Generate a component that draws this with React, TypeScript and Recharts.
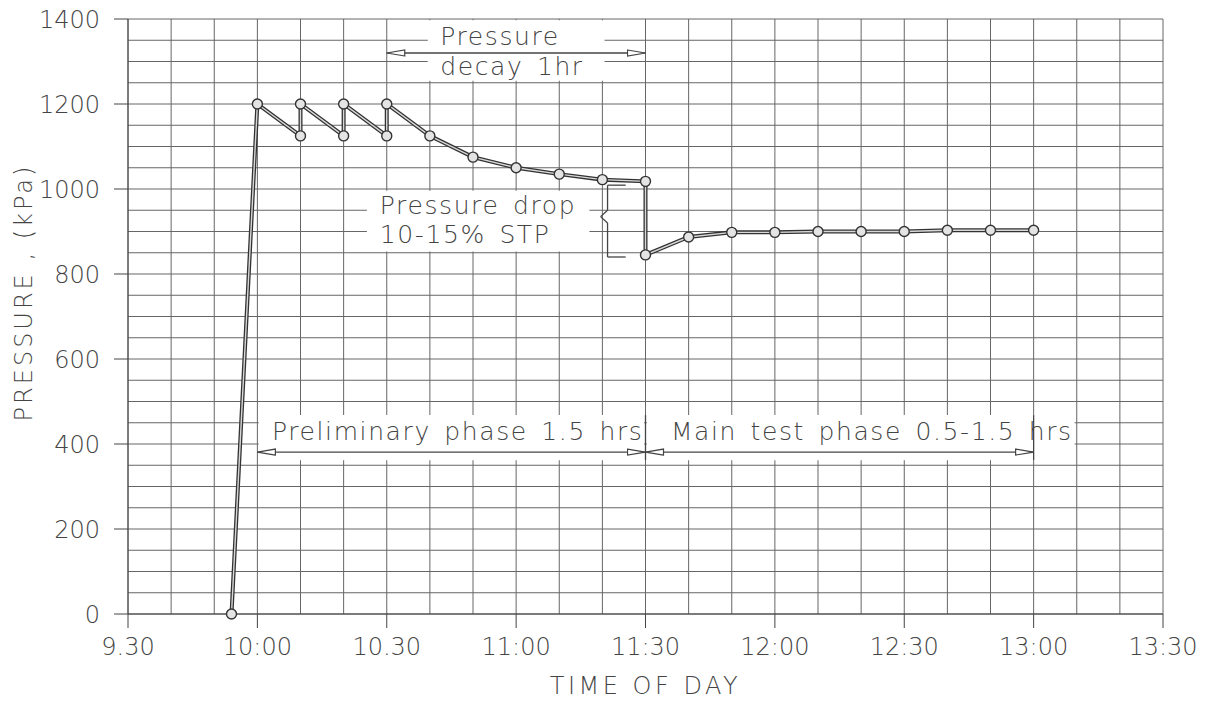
import React from 'react'
import {
  ComposedChart,
  Line,
  XAxis,
  YAxis,
  CartesianGrid,
  ReferenceArea,
  ReferenceLine,
} from 'recharts'

// minutes after 9:30
const minutes = [24, 30, 40, 40, 50, 50, 60, 60, 70, 80, 90, 100, 110, 120, 120, 130, 140, 150, 160, 170, 180, 190, 200, 210]
const pressure = [0, 1200, 1125, 1200, 1125, 1200, 1125, 1200, 1125, 1075, 1050, 1035, 1022, 1018, 845, 887, 898, 898, 900, 900, 900, 903, 903, 903]

const timeTicks = [0, 30, 60, 90, 120, 150, 180, 210, 240]
const timeLabels = ['9.30', '10:00', '10.30', '11:00', '11:30', '12:00', '12:30', '13:00', '13:30']
const pressureTicks = [0, 200, 400, 600, 800, 1000, 1200, 1400]
const gridMinutes = [0, 10, 20, 30, 40, 50, 60, 70, 80, 90, 100, 110, 120, 130, 140, 150, 160, 170, 180, 190, 200, 210, 220, 230, 240]
const gridPressures = [0, 50, 100, 150, 200, 250, 300, 350, 400, 450, 500, 550, 600, 650, 700, 750, 800, 850, 900, 950, 1000, 1050, 1100, 1150, 1200, 1250, 1300, 1350, 1400]

const data = minutes.map((t, i) => ({ t, p: pressure[i] }))

const FONT = "'DejaVu Sans', sans-serif"
const INK = '#444'

type BoxLine = { text: string; x: number; y: number }

// text inside a white ReferenceArea, placed in data units relative to the box
function boxText(lines: BoxLine[], x0: number, x1: number, y0: number, y1: number) {
  return (props: any) => {
    const vb = props.viewBox
    return (
      <g>
        {lines.map((l) => (
          <text
            key={l.text}
            x={vb.x + ((l.x - x0) / (x1 - x0)) * vb.width}
            y={vb.y + ((y1 - l.y) / (y1 - y0)) * vb.height}
            dominantBaseline="central"
            fontFamily={FONT}
            fontWeight={200}
            fontSize={25}
            letterSpacing={1.6}
            wordSpacing={4}
            fill={INK}
          >
            {l.text}
          </text>
        ))}
      </g>
    )
  }
}

const arrow = (p: any) => (
  <line x1={p.x1} y1={p.y1} x2={p.x2} y2={p.y2} stroke={INK} strokeWidth={1.3} markerStart="url(#arr)" markerEnd="url(#arr)" />
)

const Dot = (p: any) => {
  if (p.cx == null || p.cy == null) return null
  return <circle key={p.index} cx={p.cx} cy={p.cy} r={5} fill="#e4e4e4" stroke="#333" strokeWidth={1.4} />
}

export default function App() {
  return (
    <div style={{ position: 'absolute', left: 0, top: 0, width: 1209, height: 702, background: '#fff' }}>
      <svg width={0} height={0} style={{ position: 'absolute' }}>
        <defs>
          <marker id="arr" markerUnits="userSpaceOnUse" markerWidth={20} markerHeight={8} refX={19} refY={4} orient="auto-start-reverse">
            <path d="M1,1 L19,4 L1,7 Z" fill="#fff" stroke={INK} strokeWidth={1.2} />
          </marker>
        </defs>
      </svg>
      <ComposedChart width={1209} height={702} data={data} margin={{ top: 19, right: 46, bottom: 0, left: 0 }}>
        <CartesianGrid
          horizontalValues={gridPressures}
          verticalValues={gridMinutes}
          stroke="#666"
          strokeWidth={1}
        />
        <XAxis
          dataKey="t"
          type="number"
          domain={[0, 240]}
          ticks={timeTicks}
          tickFormatter={(v: number) => timeLabels[timeTicks.indexOf(v)]}
          height={88}
          tickSize={14}
          tickMargin={10}
          axisLine={{ stroke: INK }}
          tickLine={{ stroke: INK }}
          tick={{ fontSize: 24, fill: INK, fontFamily: FONT, fontWeight: 200 }}
          interval={0}
          label={{
            value: 'TIME OF DAY',
            position: 'insideBottom',
            offset: 8,
            fontSize: 24,
            fill: INK,
            fontFamily: FONT,
            fontWeight: 200,
            letterSpacing: 3.5,
          }}
        />
        <YAxis
          type="number"
          domain={[0, 1400]}
          ticks={pressureTicks}
          width={128}
          tickSize={14}
          tickMargin={14}
          axisLine={{ stroke: INK }}
          tickLine={{ stroke: INK }}
          tick={{ fontSize: 24, fill: INK, fontFamily: FONT, fontWeight: 200 }}
          interval={0}
          label={(props: any) => {
            const vb = props.viewBox
            const cx = vb.x + 24
            const cy = vb.y + vb.height / 2 - 24
            return (
              <text
                x={cx}
                y={cy}
                transform={`rotate(-90 ${cx} ${cy})`}
                textAnchor="middle"
                dominantBaseline="central"
                fontFamily={FONT}
                fontWeight={200}
                fontSize={24}
                letterSpacing={3}
                fill={INK}
              >
                PRESSURE , (kPa)
              </text>
            )
          }}
        />

        <ReferenceArea
          x1={69.5} x2={110.5} y1={1255} y2={1397}
          fill="#fff" fillOpacity={1} stroke="none"
          label={boxText([{ text: 'Pressure', x: 72.4, y: 1360 }, { text: 'decay 1hr', x: 72.4, y: 1289 }], 69.5, 110.5, 1255, 1397)}
        />
        <ReferenceArea
          x1={55.4} x2={107} y1={853} y2={996}
          fill="#fff" fillOpacity={1} stroke="none"
          label={boxText([{ text: 'Pressure drop', x: 58.4, y: 962 }, { text: '10-15% STP', x: 58.4, y: 892 }], 55.4, 107, 853, 996)}
        />
        <ReferenceArea
          x1={30.3} x2={119.7} y1={362} y2={468}
          fill="#fff" fillOpacity={1} stroke="none"
          label={boxText([{ text: 'Preliminary phase 1.5 hrs', x: 33.4, y: 430 }], 30.3, 119.7, 362, 468)}
        />
        <ReferenceArea
          x1={120.3} x2={219.5} y1={362} y2={468}
          fill="#fff" fillOpacity={1} stroke="none"
          label={boxText([{ text: 'Main test phase 0.5-1.5 hrs', x: 125.9, y: 430 }], 120.3, 219.5, 362, 468)}
        />

        <ReferenceLine segment={[{ x: 60, y: 1320 }, { x: 120, y: 1320 }]} shape={arrow} />
        <ReferenceLine segment={[{ x: 30, y: 381 }, { x: 120, y: 381 }]} shape={arrow} />
        <ReferenceLine segment={[{ x: 120, y: 381 }, { x: 210, y: 381 }]} shape={arrow} />
        <ReferenceLine segment={[{ x: 120, y: 362 }, { x: 120, y: 468 }]} stroke={INK} strokeWidth={1.3} />
        <ReferenceLine segment={[{ x: 210, y: 362 }, { x: 210, y: 468 }]} stroke={INK} strokeWidth={1.3} />

        {/* brace for pressure drop */}
        <ReferenceLine segment={[{ x: 111.2, y: 1009 }, { x: 115.4, y: 1009 }]} stroke={INK} strokeWidth={1.3} />
        <ReferenceLine segment={[{ x: 111.2, y: 1009 }, { x: 111.2, y: 950 }]} stroke={INK} strokeWidth={1.3} />
        <ReferenceLine segment={[{ x: 111.2, y: 950 }, { x: 109.6, y: 935 }]} stroke={INK} strokeWidth={1.3} />
        <ReferenceLine segment={[{ x: 109.6, y: 935 }, { x: 111.2, y: 920 }]} stroke={INK} strokeWidth={1.3} />
        <ReferenceLine segment={[{ x: 111.2, y: 920 }, { x: 111.2, y: 840 }]} stroke={INK} strokeWidth={1.3} />
        <ReferenceLine segment={[{ x: 111.2, y: 840 }, { x: 115.4, y: 840 }]} stroke={INK} strokeWidth={1.3} />

        <Line dataKey="p" type="linear" stroke="#333" strokeWidth={4} dot={false} isAnimationActive={false} />
        <Line dataKey="p" type="linear" stroke="#d8d8d8" strokeWidth={1.4} dot={Dot} isAnimationActive={false} />
      </ComposedChart>
    </div>
  )
}
